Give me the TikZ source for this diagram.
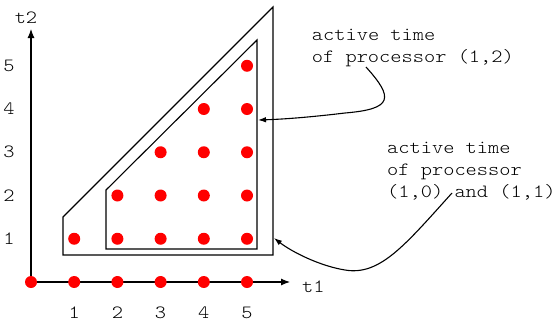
\documentclass[tikz,border=0pt]{standalone}
\usepackage{fontspec}
\setmainfont[FakeStretch=1.143]{Latin Modern Mono Light}
\usetikzlibrary{arrows.meta}
\begin{document}
\begin{tikzpicture}[x=1bp,y=-1bp,
  dot/.style={circle,fill=red,inner sep=0pt,minimum size=12bp},
  lbl/.style={font=\fontsize{18.7bp}{22bp}\selectfont,inner sep=0pt},
  region/.style={draw,line width=1.1bp,line join=miter},
  axis/.style={draw,line width=1.1bp,-{Latex[length=9bp,width=7bp]}},
  callout/.style={draw,line width=1.1bp,-{Latex[length=8bp,width=5.5bp]}}]
\useasboundingbox (0,0) rectangle (555,322);
% axes
\coordinate (origin) at (31,282);
\coordinate (xend) at (290,282);
\coordinate (yend) at (31,29);
\draw[axis] (origin) -- (xend);
\draw[axis] (origin) -- (yend);
\node[lbl,anchor=base west] (t1) at (302,292) {t1};
\node[lbl,anchor=base] (t2) at (26,23) {t2};
% tick labels
\foreach \i in {1,...,5}{
  \node[lbl,anchor=base] (xl\i) at ({31+43.2*\i},318.5) {\i};
  \node[lbl,anchor=base] (yl\i) at (9,{282-43.25*\i+5.5}) {\i};
}
% regions
\draw[region] (63,255) -- (63,217) -- (273,7) -- (273,255) -- cycle;
\draw[region] (106,249) -- (106,190) -- (257,40) -- (257,249) -- cycle;
\coordinate (outerpt) at (274,238);
\coordinate (innerpt) at (258,120);
% dots
\foreach \i in {0,...,5}{
  \node[dot] (d\i0) at ({31+43.2*\i},282) {};
}
\node[dot] (d11) at ({31+43.2},{282-43.25}) {};
\foreach \i in {2,...,5}{
  \foreach \j in {1,...,\i}{
    \node[dot] (d\i\j) at ({31+43.2*\i},{282-43.25*\j}) {};
  }
}
% labels
\node[lbl,anchor=base west] (lab12) at (311.7,40)
  {\begin{tabular}[t]{@{}l@{}}active time\\of processor (1,2)\end{tabular}};
\node[lbl,anchor=base west] (lab01) at (387,153)
  {\begin{tabular}[t]{@{}l@{}}active time\\of processor\\(1,0) and (1,1)\end{tabular}};
\coordinate (s12) at (366,67);
\coordinate (s01) at (452,193);
\draw[callout] (s12) .. controls (394,98) and (393,109) .. (345,113)
  .. controls (320,116) and (290,119) .. (innerpt);
\draw[callout] (s01) .. controls (405,245) and (380,276) .. (345,270)
  .. controls (320,266) and (292,252) .. (outerpt);
\end{tikzpicture}
\end{document}
